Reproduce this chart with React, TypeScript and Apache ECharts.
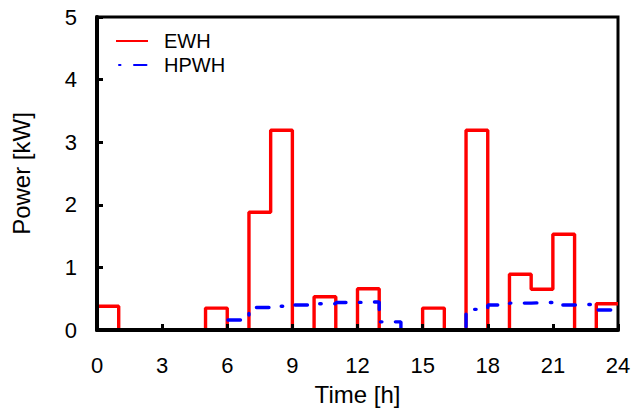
import React, { useEffect, useRef } from "react";
import * as echarts from "echarts";

const hours = [0, 1, 2, 3, 4, 5, 6, 7, 8, 9, 10, 11, 12, 13, 14, 15, 16, 17, 18, 19, 20, 21, 22, 23];
const ewh = [0.38, 0, 0, 0, 0, 0.35, 0, 1.88, 3.19, 0, 0.53, 0, 0.66, 0, 0, 0.35, 0, 3.19, 0, 0.89, 0.65, 1.53, 0, 0.42];
const hpwh = [0, 0, 0, 0, 0, 0, 0.16, 0.36, 0.38, 0.4, 0.42, 0.44, 0.45, 0.13, 0, 0, 0, 0.33, 0.4, 0.43, 0.44, 0.4, 0.41, 0.32];
const seriesNames = ["EWH", "HPWH"];
const xTicks = { min: 0, max: 24, interval: 3 };
const yTicks = { min: 0, max: 5, interval: 1 };

const FONT = "'Liberation Sans', Arial, sans-serif";

function stepData(values: number[]) {
  const d = hours.map((h, i) => [h, values[i]]);
  d.push([hours[hours.length - 1] + 1, values[values.length - 1]]);
  return d;
}

export default function App() {
  const ref = useRef<HTMLDivElement>(null);
  useEffect(() => {
    document.body.style.margin = "0";
    const chart = echarts.init(ref.current!, null, { renderer: "svg" });
    const axisCommon = {
      z: 10,
      axisLine: { show: true, lineStyle: { color: "#000", width: 4 } },
      axisTick: { show: true, inside: true, length: 6, lineStyle: { color: "#000", width: 3 } },
      splitLine: { show: false },
    };
    chart.setOption({
      animation: false,
      textStyle: { fontFamily: FONT },
      grid: {
        left: 97,
        right: 16,
        top: 17,
        bottom: 80,
        show: true,
        borderColor: "#000",
        borderWidth: 3,
        backgroundColor: "transparent",
      },
      legend: {
        data: seriesNames,
        orient: "vertical",
        left: 115,
        top: 31,
        itemWidth: 32,
        itemHeight: 14,
        itemGap: 4,
        padding: 0,
        itemStyle: { color: "transparent", borderColor: "transparent", borderWidth: 0 },
        textStyle: { fontSize: 20, color: "#000", fontFamily: FONT, padding: [0, 0, 0, 11] },
      },
      xAxis: {
        type: "value",
        ...xTicks,
        ...axisCommon,
        name: "Time [h]",
        nameLocation: "middle",
        nameGap: 52,
        nameTextStyle: { fontSize: 24, color: "#000", fontFamily: FONT },
        axisLabel: { fontSize: 22, color: "#000", margin: 24, fontFamily: FONT },
      },
      yAxis: {
        type: "value",
        ...yTicks,
        ...axisCommon,
        name: "Power [kW]",
        nameLocation: "middle",
        nameGap: 64,
        nameTextStyle: { fontSize: 24, color: "#000", fontFamily: FONT },
        axisLabel: { fontSize: 22, color: "#000", margin: 20, fontFamily: FONT },
      },
      series: [
        {
          name: seriesNames[0],
          type: "line",
          step: "end",
          symbol: "none",
          data: stepData(ewh),
          lineStyle: { color: "#ff0000", width: 3.4 },
          itemStyle: { color: "#ff0000" },
          z: 3,
        },
        {
          name: seriesNames[1],
          type: "line",
          step: "end",
          symbol: "none",
          data: stepData(hpwh),
          lineStyle: {
            color: "#0000ff",
            width: 3.4,
            type: [12.5, 13.5, 1.5, 13.5],
            dashOffset: 23,
            cap: "round",
          },
          itemStyle: { color: "#0000ff" },
          z: 4,
        },
      ],
    });
    return () => chart.dispose();
  }, []);
  return <div ref={ref} style={{ width: 634, height: 411 }} />;
}
